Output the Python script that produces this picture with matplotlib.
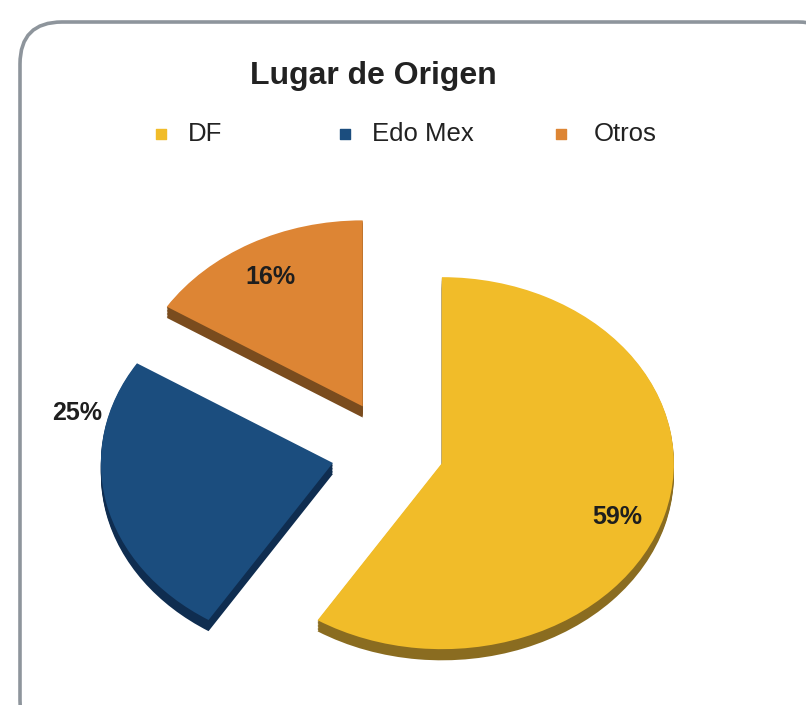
"""
Lugar de Origen - exploded pie with a little depth
"""

import numpy as np
import matplotlib
matplotlib.use("Agg")
import matplotlib.pyplot as plt
from matplotlib.patches import FancyBboxPatch, Wedge


# DATA
categories = ["DF", "Edo Mex", "Otros"]
values = [59, 25, 16]
pct_labels = ["59%", "25%", "16%"]

# STYLE
top_colors = ["#F1BC29", "#1B4D7E", "#DD8534"]
side_colors = ["#8A6C20", "#0F2D50", "#7A4C1E"]
explode = [0.215, 0.27, 0.28]
depth = 0.06

W, H = 806, 705
fig = plt.figure(figsize=(W / 100, H / 100), dpi=100)

# background axes in pixel units: frame, title, legend
bg = fig.add_axes([0, 0, 1, 1])
bg.set_xlim(0, W)
bg.set_ylim(H, 0)
bg.axis("off")
frame = FancyBboxPatch((20, 22), 820, 720,
                       boxstyle="round,pad=0,rounding_size=42",
                       facecolor="white", edgecolor="#8E959C", linewidth=2.6)
bg.add_patch(frame)
bg.text(373, 76, "Lugar de Origen", ha="center", va="center",
        fontsize=23, fontweight="bold", color="#222222",
        family="Liberation Sans")

legend_marker_x = [161, 345, 561]
legend_text_x = [188, 372, 594]
for i, name in enumerate(categories):
    bg.scatter(legend_marker_x[i], 134, marker="s", s=55,
               color=top_colors[i], zorder=3)
    bg.text(legend_text_x[i], 134, name, ha="left", va="center",
            fontsize=18.5, color="#222222", family="Liberation Sans")

# pie axes: 1 unit = 232 px horizontally, 186 px vertically
cx, cy, rx, ry = 394, 452, 232, 186
ax = fig.add_axes([0, 0, 1, 1])
ax.patch.set_alpha(0)
wedges, _ = ax.pie(values, explode=explode, colors=top_colors,
                   startangle=90, counterclock=False,
                   wedgeprops=dict(linewidth=0, zorder=3))

# darker copies shifted down give the slice thickness
for w, c in zip(wedges, side_colors):
    x0, y0 = w.center
    for k in np.linspace(depth, 0.005, 8):
        ax.add_patch(Wedge((x0, y0 - k), w.r, w.theta1, w.theta2,
                           facecolor=c, linewidth=0, zorder=2))

ax.set_aspect("auto")
ax.set_xlim(-cx / rx, (W - cx) / rx)
ax.set_ylim(-(H - cy) / ry, cy / ry)
ax.axis("off")

label_px = [(617, 517), (77, 413), (270, 277)]
for (px, py), txt in zip(label_px, pct_labels):
    ax.text((px - cx) / rx, (cy - py) / ry, txt, ha="center", va="center",
            fontsize=18, fontweight="bold", color="#1E1E1E",
            family="Liberation Sans", zorder=5)

fig.savefig("out.png", dpi=100)
